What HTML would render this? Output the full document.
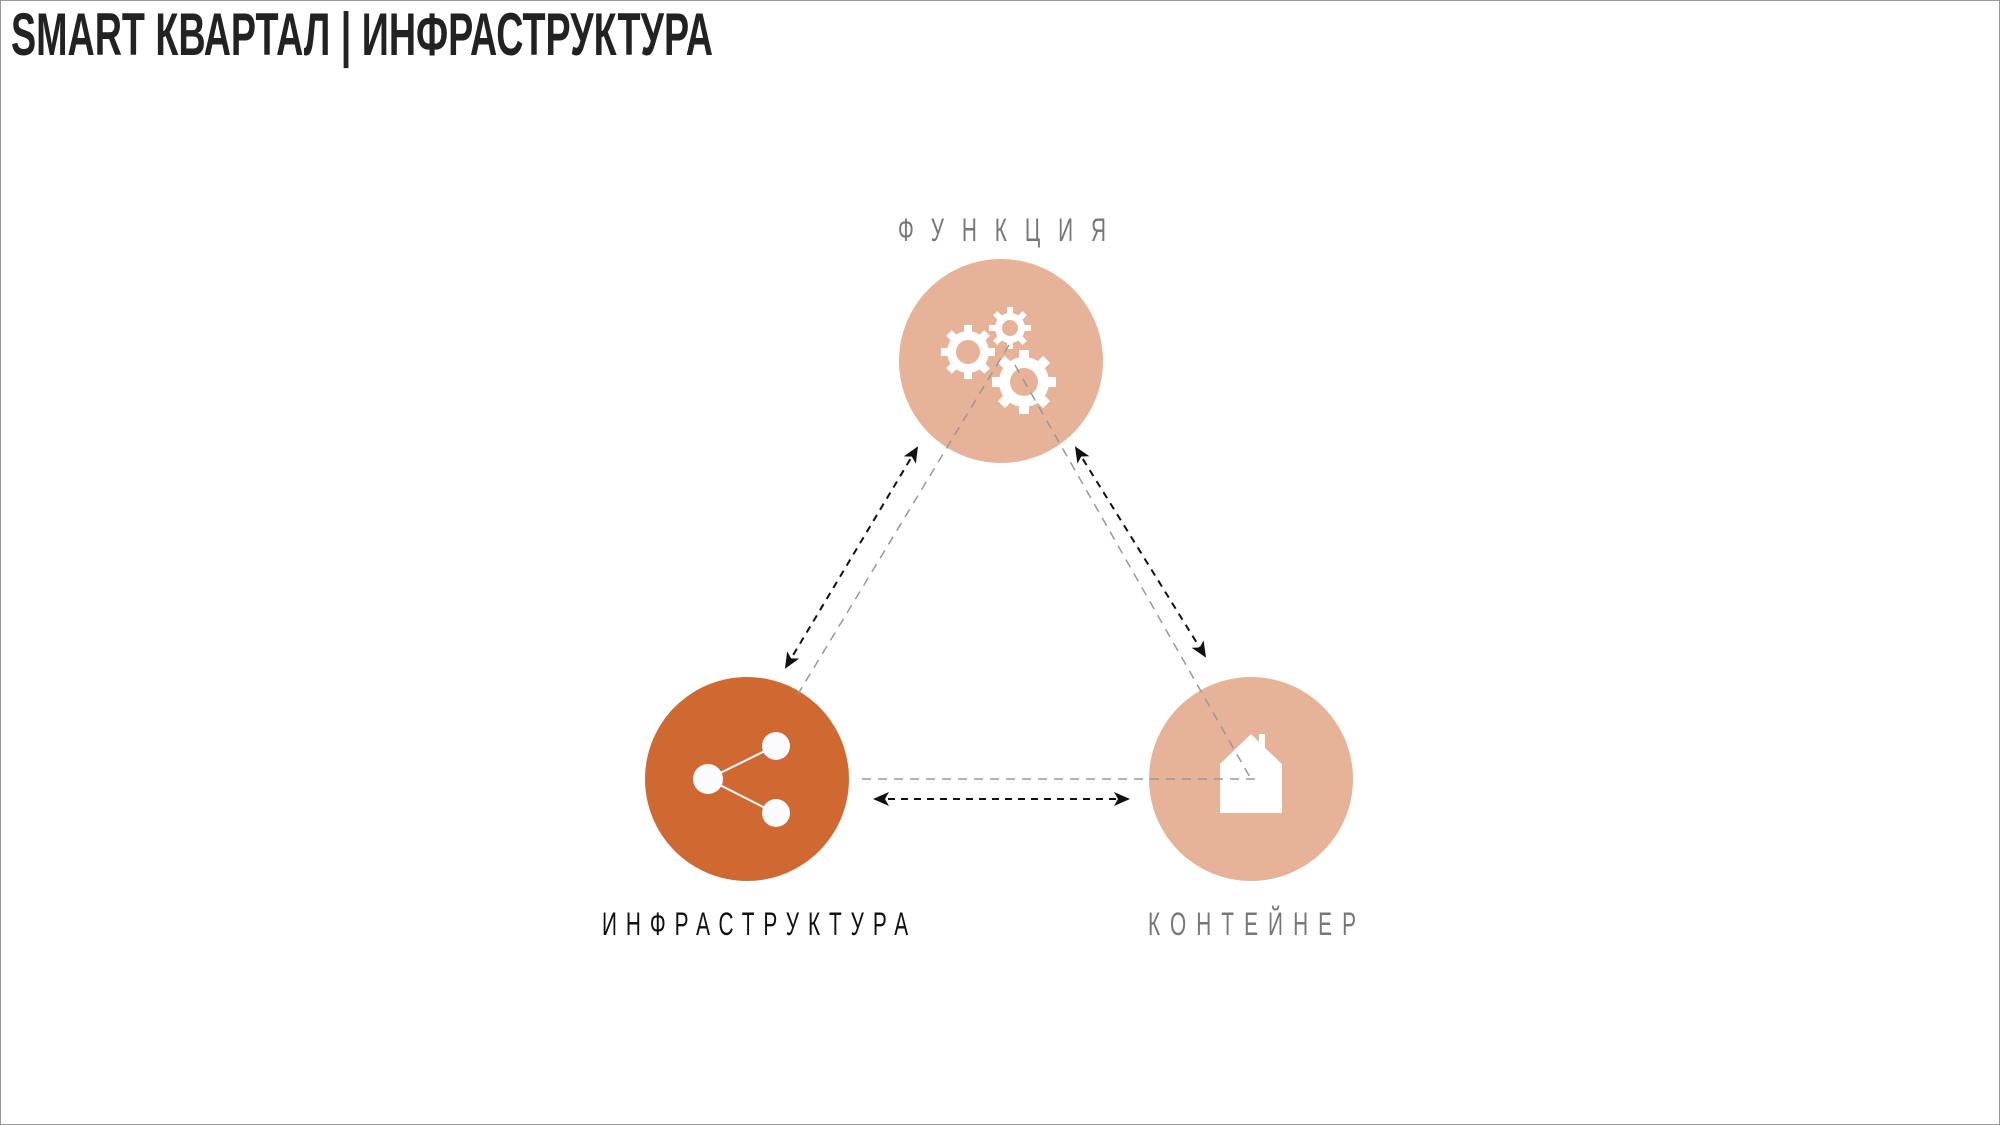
<!DOCTYPE html>
<html><head><meta charset="utf-8"><style>
html,body{margin:0;padding:0;background:#fff}
.wrap{position:relative;width:2000px;height:1125px;overflow:hidden;box-sizing:border-box;border:1px solid #999;background:#fff}
</style></head><body><div class="wrap">
<svg width="2000" height="1125" style="position:absolute;left:0;top:0">
<defs>
<marker id="ah" markerWidth="16" markerHeight="16" refX="14" refY="8" orient="auto" markerUnits="userSpaceOnUse" viewBox="0 0 16 16"><path d="M0,1 L16,8 L0,15 L4,8z" fill="#111"/></marker>
<marker id="ahs" markerWidth="16" markerHeight="16" refX="2" refY="8" orient="auto" markerUnits="userSpaceOnUse" viewBox="0 0 16 16"><path d="M16,1 L0,8 L16,15 L12,8z" fill="#111"/></marker>
</defs>
<text x="10" y="54" font-family="Liberation Sans, sans-serif" font-weight="bold" font-size="60" fill="#222" textLength="702" lengthAdjust="spacingAndGlyphs">SMART КВАРТАЛ | ИНФРАСТРУКТУРА</text>
<g font-family="Liberation Sans, sans-serif" font-size="32">
<text transform="translate(897,240) scale(0.65,1)" textLength="320" lengthAdjust="spacing" fill="#777">ФУНКЦИЯ</text>
<text transform="translate(601,934) scale(0.65,1)" textLength="471" lengthAdjust="spacing" fill="#111">ИНФРАСТРУКТУРА</text>
<text transform="translate(1147,934) scale(0.65,1)" textLength="320" lengthAdjust="spacing" fill="#777">КОНТЕЙНЕР</text>
</g>
<circle cx="1000" cy="360" r="102" fill="#e6b298"/>
<circle cx="746" cy="778" r="102" fill="#d06832"/>
<circle cx="1250" cy="778" r="102" fill="#e6b298"/>
<g fill="#fff">
<g transform="translate(967,351)"><circle r="21"/><g id="t1"><rect x="-4" y="-27" width="8" height="10"/></g>
<use href="#t1" transform="rotate(45)"/><use href="#t1" transform="rotate(90)"/><use href="#t1" transform="rotate(135)"/><use href="#t1" transform="rotate(180)"/><use href="#t1" transform="rotate(225)"/><use href="#t1" transform="rotate(270)"/><use href="#t1" transform="rotate(315)"/><circle r="12" fill="#e6b298"/></g>
<g transform="translate(1009,327)"><circle r="15"/><g id="t2"><rect x="-3" y="-21" width="6" height="8"/></g>
<use href="#t2" transform="rotate(45)"/><use href="#t2" transform="rotate(90)"/><use href="#t2" transform="rotate(135)"/><use href="#t2" transform="rotate(180)"/><use href="#t2" transform="rotate(225)"/><use href="#t2" transform="rotate(270)"/><use href="#t2" transform="rotate(315)"/><circle r="8" fill="#e6b298"/></g>
<g transform="translate(1023,381)"><circle r="25"/><g id="t3"><rect x="-5" y="-32" width="10" height="10"/></g>
<use href="#t3" transform="rotate(45)"/><use href="#t3" transform="rotate(90)"/><use href="#t3" transform="rotate(135)"/><use href="#t3" transform="rotate(180)"/><use href="#t3" transform="rotate(225)"/><use href="#t3" transform="rotate(270)"/><use href="#t3" transform="rotate(315)"/><circle r="14" fill="#e6b298"/></g>
</g>
<g stroke="#fff" stroke-width="2"><line x1="707" y1="778" x2="774" y2="745"/><line x1="707" y1="778" x2="774" y2="812"/></g>
<g fill="#fbfaff"><circle cx="707" cy="778" r="15"/><circle cx="775" cy="745" r="14"/><circle cx="775" cy="812" r="14"/></g>
<path d="M1219,812 V763 L1250,733 L1258,741 V733 H1264 V747 L1281,763 V812Z" fill="#fff"/>
<g stroke="#999" stroke-width="1.5" stroke-dasharray="9,7" fill="none">
<line x1="1008" y1="344" x2="797" y2="693"/>
<line x1="1014" y1="364" x2="1250" y2="778"/>
<line x1="861" y1="778" x2="1254" y2="778"/>
</g>
<g stroke="#111" stroke-width="2" stroke-dasharray="7,6" fill="none">
<line x1="916" y1="447" x2="785" y2="666" marker-start="url(#ahs)" marker-end="url(#ah)"/>
<line x1="1075" y1="447" x2="1204" y2="655" marker-start="url(#ahs)" marker-end="url(#ah)"/>
<line x1="874" y1="798" x2="1127" y2="798" marker-start="url(#ahs)" marker-end="url(#ah)"/>
</g>
</svg>
</div></body></html>
